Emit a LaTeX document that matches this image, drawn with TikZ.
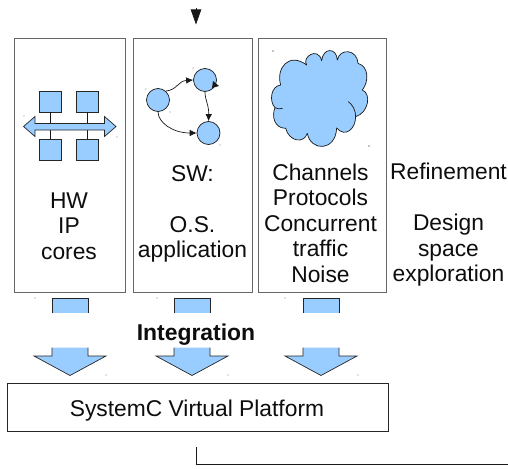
\documentclass[tikz,border=0pt]{standalone}
\usepackage{fontspec}
\setmainfont{Liberation Sans}
\usetikzlibrary{arrows.meta}
\definecolor{sky}{HTML}{99CCFF}
\definecolor{frame}{HTML}{666666}
\tikzset{
  panel/.style={draw=frame,line width=0.9pt,fill=white,rectangle,inner sep=0pt},
  label/.style={align=center,font=\fontsize{22.8}{25.5}\selectfont,inner sep=0pt,text=black!95},
  chip/.style={draw=black!85,line width=0.7pt,fill=sky,rectangle,minimum width=22pt,minimum height=21pt,inner sep=0pt},
  vertex/.style={draw=black!90,line width=0.7pt,fill=sky,circle,minimum size=23pt,inner sep=0pt},
  link/.style={draw=black!90,line width=0.7pt},
  edge/.style={link,-{Latex[length=7pt,width=6.5pt]}},
  blockfill/.style={fill=sky,draw=none},
  blockline/.style={draw=black!85,line width=0.7pt},
  speck/.style={fill=black,circle,inner sep=0pt,minimum size=1.3pt},
  faint/.style={fill=black!45,circle,inner sep=0pt,minimum size=1.1pt}
}
\begin{document}
\begin{tikzpicture}[x=1pt,y=-1pt]
\useasboundingbox (0,0) rectangle (508,468);
\fill[white] (0,0) rectangle (508,468);
% panels
\node[panel,minimum width=111pt,minimum height=254pt] (hw) at (69.5,165) {};
\node[panel,minimum width=119pt,minimum height=254pt] (sw) at (193,165) {};
\node[panel,minimum width=128pt,minimum height=254pt] (ch) at (322,165) {};
\node[draw=black!85,line width=0.7pt,fill=white,rectangle,minimum width=381pt,minimum height=48pt,inner sep=0pt] (vp) at (197.5,407) {};
\node[label] (vpt) at (197,411) {SystemC Virtual Platform};
% texts
\node[label] (hwt) at (69,226) {HW\\IP\\cores};
\node[label] (swt) at (192.5,214) {SW:\\[25.5pt]O.S.\\application};
\node[label] (cht) at (320.5,223) {Channels\\Protocols\\Concurrent\\traffic\\Noise};
\node[label] (rt) at (448.5,225) {Refinement\\[25.5pt]Design\\space\\exploration};
\node[label,font=\bfseries\fontsize{22.9}{25}\selectfont] (integ) at (196,335) {Integration};
% HW icon
\node[chip] (c1) at (50.5,101.5) {};
\node[chip] (c2) at (87.5,101.5) {};
\node[chip] (c3) at (50.5,150) {};
\node[chip] (c4) at (87.5,150) {};
\coordinate (b1) at (50.5,126.5);
\coordinate (b2) at (87.5,126.5);
\draw[link] (c1.south) -- (b1);
\draw[link] (c2.south) -- (b2);
\draw[link] (c3.north) -- (b1);
\draw[link] (c4.north) -- (b2);
\draw[blockline,fill=sky,line join=miter] (23.5,126.5) -- (35,116.5) -- (35,123.5) -- (104.5,123.5) -- (104.5,116.5) -- (116,126.5) -- (104.5,136.5) -- (104.5,130) -- (35,130) -- (35,136.5) -- cycle;
% SW graph
\node[vertex] (v1) at (158,100) {};
\node[vertex] (v2) at (205,80) {};
\node[vertex] (v3) at (208.5,133) {};
\draw[edge] (v1) ++(8,-9) .. controls (177,90) and (178,81) .. (v2.west);
\draw[edge] (v1.south) .. controls (158,122) and (172,133) .. (v3.west);
\draw[edge] (v2.south) .. controls (205,100) and (209,105) .. (v3.north);
\fill[black!90] (213,81) -- (219,86) -- (212,88) -- cycle;
% cloud
\begin{scope}[shift={(254,0)},x=0.3333pt,y=-0.3333pt]
\draw[link,fill=sky,line join=round] (80,255)
  .. controls (65,205) and (105,155) .. (158,195)
  .. controls (142,172) and (192,138) .. (203,182)
  .. controls (207,142) and (248,142) .. (250,180)
  .. controls (258,143) and (310,148) .. (312,190)
  .. controls (345,200) and (345,245) .. (325,270)
  .. controls (352,280) and (345,338) .. (305,350)
  .. controls (305,385) and (275,415) .. (248,384)
  .. controls (245,455) and (170,455) .. (160,400)
  .. controls (150,432) and (105,425) .. (95,385)
  .. controls (62,385) and (52,350) .. (63,323)
  .. controls (45,305) and (50,258) .. (80,255)
  -- cycle;
\draw[link] (63,323) .. controls (70,328) and (78,327) .. (86,325);
\draw[link] (283,305) .. controls (296,315) and (305,330) .. (305,350);
\end{scope}
% integration arrows
\foreach \n/\cx in {a/70,b/192,c/321}{
  \fill[blockfill] (\cx-18,298.5) rectangle (\cx+18,313);
  \draw[blockline] (\cx-18,313) -- (\cx-18,298.5) -- (\cx+18,298.5) -- (\cx+18,313);
  \fill[blockfill] (\cx-18,347.5) -- (\cx+18,347.5) -- (\cx+18,356) -- (\cx+36,356) -- (\cx,375.5) -- (\cx-36,356) -- (\cx-18,356) -- cycle;
  \draw[blockline,line join=miter] (\cx-18,347.5) -- (\cx-18,356) -- (\cx-36,356) -- (\cx,375.5) -- (\cx+36,356) -- (\cx+18,356) -- (\cx+18,347.5);
}
% feedback line
\coordinate (fbs) at (196,447);
\coordinate (fbc) at (196,464);
\coordinate (fbe) at (508,464);
\draw[link] (fbs) -- (fbc) -- (fbe);
\coordinate (fa) at (196,8);
\coordinate (fb) at (196,24.5);
\draw[link,-{Triangle[length=15pt,width=10.5pt]}] (fa) -- (fb);
% specks
\node[speck] at (273,51) {};
\node[speck] at (369,146) {};
\foreach \p in {(24,116),(117,137),(35,298),(157,298),(285,298),(106,375),(228,375),(358,375),(146,89),(170,112),(193,68),(220,145)}{\node[faint] at \p {};}
\end{tikzpicture}
\end{document}
